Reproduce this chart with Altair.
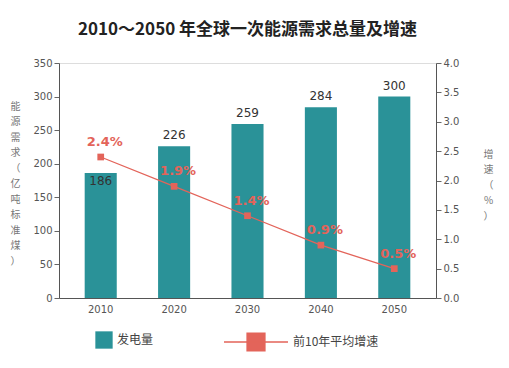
import altair as alt
import pandas as pd

years = ["2010", "2020", "2030", "2040", "2050"]
demand = [186, 226, 259, 284, 300]
growth = [2.4, 1.9, 1.4, 0.9, 0.5]
growth_labels = ["2.4%", "1.9%", "1.4%", "0.9%", "0.5%"]

df = pd.DataFrame({
    "year": years,
    "demand": demand,
    "growth": growth,
    "glabel": growth_labels,
    "s1": ["发电量"] * 5,
    "s2": ["前10年平均增速"] * 5,
})

TEAL = "#2A9298"
RED = "#E3645A"
FONT = "Noto Sans CJK SC"

x = alt.X("year:N", title=None,
          scale=alt.Scale(paddingInner=0.563, paddingOuter=0.35),
          axis=alt.Axis(labelAngle=0, ticks=False, labelPadding=6, labelColor="#555",
                        labelFontSize=10, domainColor="#555", labelFont="DejaVu Sans"))

yl = alt.Y("demand:Q", scale=alt.Scale(domain=[0, 350]),
           axis=alt.Axis(values=list(range(0, 351, 50)), grid=False, tickColor="#666",
                         labelOverlap=False,
                         domainColor="#555", labelColor="#555", labelFontSize=10,
                         labelFont="DejaVu Sans",
                         title=["能", "源", "需", "求", "（", "亿", "吨", "标", "准", "煤", "）"],
                         titleAngle=360, titleX=-44, titleY=38, titleAlign="center",
                         titleBaseline="top", titleFontSize=10, titleLineHeight=15.5,
                         titleColor="#777", titleFontWeight="normal", titleFont=FONT))

bars = alt.Chart(df).mark_bar(color=TEAL).encode(
    x=x, y=yl,
    fill=alt.Fill("s1:N", scale=alt.Scale(range=[TEAL]),
                  legend=alt.Legend(title=None, orient="none", legendX=36, legendY=268,
                                    symbolType="square", symbolSize=300,
                                    labelFontSize=12, labelColor="#444", labelFont=FONT,
                                    symbolStrokeWidth=0)),
)

lab_above = alt.Chart(df).transform_filter("datum.demand >= 200").mark_text(
    dy=-4, baseline="bottom", fontSize=12, color="#333", font="DejaVu Sans"
).encode(x=x, y=yl, text="demand:Q")

lab_inside = alt.Chart(df).transform_filter("datum.demand < 200").mark_text(
    dy=3, baseline="top", fontSize=12, color="#333", font="DejaVu Sans"
).encode(x=x, y=yl, text="demand:Q")

left = alt.layer(bars, lab_above, lab_inside)

yr = alt.Y("growth:Q", scale=alt.Scale(domain=[0, 4]),
           axis=alt.Axis(orient="right", values=[i * 0.5 for i in range(9)], format=".1f",
                         labelOverlap=False,
                         grid=False, tickColor="#666", domainColor="#555",
                         labelColor="#555", labelFontSize=10, labelFont="DejaVu Sans",
                         title=["增", "速", "（", "%", "）"],
                         titleAngle=360, titleX=52, titleY=86, titleAlign="center",
                         titleBaseline="top", titleFontSize=10, titleLineHeight=15.5,
                         titleColor="#777", titleFontWeight="normal", titleFont=FONT))

line = alt.Chart(df).mark_line(strokeWidth=1.3).encode(
    x=x, y=yr,
    stroke=alt.Stroke("s2:N", scale=alt.Scale(range=[RED]),
                      legend=alt.Legend(title=None, orient="none", legendX=164, legendY=246,
                                        symbolType="M-1,0H1M-0.28,-0.28H0.28V0.28H-0.28Z",
                                        symbolSize=4096, symbolFillColor=RED,
                                        symbolStrokeWidth=1.3,
                                        labelFontSize=12, labelColor="#444", labelFont=FONT)),
)
pts = alt.Chart(df).mark_point(shape="square", filled=True, size=45, color=RED, opacity=1).encode(
    x=x, y=yr)
glab = alt.Chart(df).mark_text(dx=4, dy=-15, fontSize=13, fontWeight="bold", color=RED,
                               font="DejaVu Sans").encode(x=x, y=yr, text="glabel:N")

right = alt.layer(line, pts, glab)

chart = alt.layer(left, right).resolve_scale(y="independent", fill="independent", stroke="independent").properties(
    width=377, height=235,
    autosize=alt.AutoSizeParams(type="none"),
    padding={"left": 51, "top": 55, "right": 65, "bottom": 70},
    title=alt.Title("2010～2050 年全球一次能源需求总量及增速", font=FONT, fontSize=17,
                    fontWeight="bold", color="#222", offset=19, anchor="middle"),
).configure_view(stroke=None).configure(background="white")

chart.save("out.html", embed_options={"renderer": "svg", "actions": False})
